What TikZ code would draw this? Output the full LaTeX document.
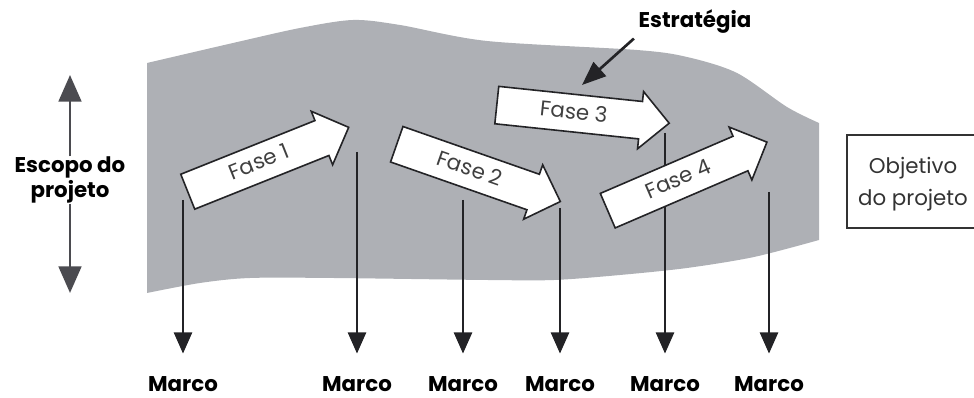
\documentclass[tikz,border=0pt]{standalone}
\usepackage{fontspec}
\setmainfont{Poppins}
\usetikzlibrary{arrows.meta,shapes.arrows}

\definecolor{bandgray}{RGB}{174,176,181}
\definecolor{darkline}{RGB}{35,35,38}
\definecolor{scopegray}{RGB}{75,75,80}

\tikzset{
    fase/.style={single arrow, draw=darkline, fill=white, line width=1.2pt,
        anchor=tail, minimum height=130pt, single arrow head extend=7.5pt,
        inner xsep=4pt, inner ysep=7pt, text height=11pt, text depth=2pt,
        text=black!75, font=\fontsize{16}{18}\selectfont},
    label/.style={font=\bfseries\fontsize{16}{19}\selectfont},
    marco arrow/.style={darkline, line width=2.2pt, shorten >=14pt,
        -{Triangle[width=13.5pt,length=16pt]}},
    escopo arrow/.style={scopegray, line width=2.2pt,
        -{Triangle[width=17pt,length=20pt]}},
}

\begin{document}
\begin{tikzpicture}[x=0.75pt, y=0.75pt]
    \useasboundingbox (0,0) rectangle (974,398);
    % band
    \fill[bandgray] plot[smooth] coordinates {(147,335) (233,355) (300,370)
            (353,378) (400,373) (487,357) (637,348) (687,341) (737,325)
            (787,291) (819,275)}
        -- plot[smooth] coordinates {(819,158) (754,141) (687,130) (620,123)
            (554,118) (487,118) (333,120) (250,120) (200,115) (147,105)}
        -- cycle;

    % escopo
    \node[label, align=center, inner sep=0pt] (escopo) at (70,218) {Escopo do\\projeto};
    \coordinate (escopotop) at (70,323);
    \coordinate (escopobottom) at (70,105);
    \draw[escopo arrow] (escopo.north) -- (escopotop);
    \draw[escopo arrow] (escopo.south) -- (escopobottom);

    % marcos
    \node[label, anchor=base] (marco1) at (183,6) {Marco};
    \node[label, anchor=base] (marco2) at (357,6) {Marco};
    \node[label, anchor=base] (marco3) at (463,6) {Marco};
    \node[label, anchor=base] (marco4) at (560,6) {Marco};
    \node[label, anchor=base] (marco5) at (665,6) {Marco};
    \node[label, anchor=base] (marco6) at (769,6) {Marco};
    \coordinate (m1) at (183,198);
    \coordinate (m2) at (357,246);
    \coordinate (m3) at (463,198);
    \coordinate (m4) at (560,190);
    \coordinate (m5) at (665,265);
    \coordinate (m6) at (769,206);
    \draw[marco arrow] (m1) -- (marco1.north);
    \draw[marco arrow] (m2) -- (marco2.north);
    \draw[marco arrow] (m3) -- (marco3.north);
    \draw[marco arrow] (m4) -- (marco4.north);
    \draw[marco arrow] (m5) -- (marco5.north);
    \draw[marco arrow] (m6) -- (marco6.north);

    % fases
    \node[fase, rotate=21.8] (fase1) at (187,206) {Fase 1};
    \node[fase, rotate=-19.3] (fase2) at (396,254) {Fase 2};
    \node[fase, rotate=-6] (fase3) at (496,293) {Fase 3};
    \node[fase, rotate=23.3] (fase4) at (607,187) {Fase 4};

    % estrategia
    \node[label, anchor=base] (estrategia) at (695,370) {Estratégia};
    \coordinate (estrategiatip) at (582,313);
    \draw[darkline, line width=2pt, -{Triangle[width=14pt,length=18pt]}]
        (estrategia.south west) -- (estrategiatip);

    % objetivo
    \node[align=center, font=\fontsize{16}{24}\selectfont, text=black!80] (objetivo)
        at (913,214) {Objetivo\\do projeto};
    \draw[black!80, line width=1.4pt] (990,263) -- (847,263) -- (847,170) -- (990,170);
\end{tikzpicture}
\end{document}
